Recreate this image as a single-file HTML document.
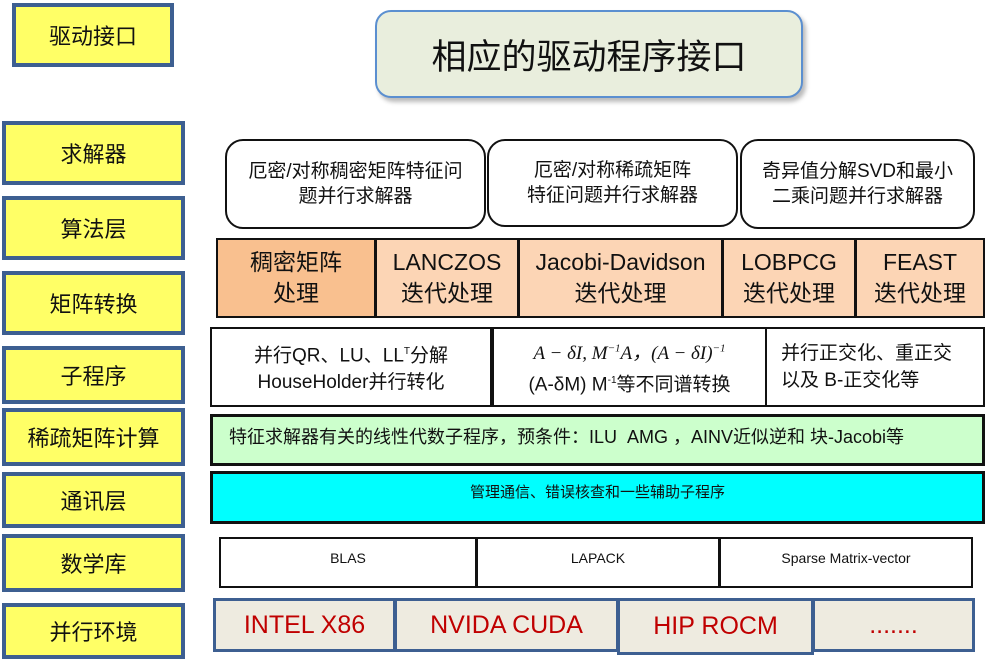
<!DOCTYPE html>
<html><head><meta charset="utf-8"><style>
body{margin:0;width:988px;height:663px;background:#fff;position:relative;overflow:hidden;font-family:"Liberation Sans","Noto Sans CJK SC",sans-serif}
.a{position:absolute;box-sizing:border-box;display:flex;align-items:center;justify-content:center;text-align:center;color:#111}
.y{background:#ffff66;border:4px solid #3d5f91;font-size:22px}
.s{background:#fff;border:2px solid #111;border-radius:18px;font-size:19px;line-height:25px}
.g{border:2px solid #111;font-size:23px;line-height:31px}
.w{background:#fff;border:2px solid #111;font-size:19px;line-height:27px}
.m{background:#fff;border:2px solid #111;font-size:14px;padding-bottom:10px}
.p{background:#eeebe0;border:3px solid #3d5f91;color:#c00000;font-size:25px}
</style></head><body>
<div class="a y" style="left:12px;top:3px;width:162px;height:64px">驱动接口</div>
<div class="a y" style="left:2px;top:121px;width:183px;height:64px">求解器</div>
<div class="a y" style="left:2px;top:196px;width:183px;height:64px">算法层</div>
<div class="a y" style="left:2px;top:271px;width:183px;height:64px">矩阵转换</div>
<div class="a y" style="left:2px;top:346px;width:183px;height:58px">子程序</div>
<div class="a y" style="left:2px;top:408px;width:183px;height:58px">稀疏矩阵计算</div>
<div class="a y" style="left:2px;top:472px;width:183px;height:56px">通讯层</div>
<div class="a y" style="left:2px;top:534px;width:183px;height:58px">数学库</div>
<div class="a y" style="left:2px;top:603px;width:183px;height:56px">并行环境</div>

<div class="a" style="left:375px;top:10px;width:428px;height:88px;background:#e9eedd;border:2px solid #5b8fd0;border-radius:16px;font-size:35px;box-shadow:3px 4px 4px #bbb">相应的驱动程序接口</div>

<div class="a s" style="left:225px;top:139px;width:261px;height:90px">厄密/对称稠密矩阵特征问<br>题并行求解器</div>
<div class="a s" style="left:487px;top:139px;width:251px;height:88px">厄密/对称稀疏矩阵<br>特征问题并行求解器</div>
<div class="a s" style="left:740px;top:139px;width:235px;height:90px">奇异值分解SVD和最小<br>二乘问题并行求解器</div>

<div class="a g" style="left:216px;top:238px;width:160px;height:80px;background:#f9c08f">稠密矩阵<br>处理</div>
<div class="a g" style="left:375px;top:238px;width:144px;height:80px;background:#fcd5b5">LANCZOS<br>迭代处理</div>
<div class="a g" style="left:518px;top:238px;width:205px;height:80px;background:#fcd5b5">Jacobi-Davidson<br>迭代处理</div>
<div class="a g" style="left:722px;top:238px;width:134px;height:80px;background:#fcd5b5">LOBPCG<br>迭代处理</div>
<div class="a g" style="left:855px;top:238px;width:130px;height:80px;background:#fcd5b5">FEAST<br>迭代处理</div>

<div class="a w" style="left:210px;top:327px;width:282px;height:80px"><span>并行QR、LU、LL<sup style="font-size:10px">T</sup>分解<br>HouseHolder并行转化</span></div>
<div class="a w" style="left:492px;top:327px;width:275px;height:80px"><span><i style="font-family:'Liberation Serif',serif">A − δI, M<sup style="font-size:11px">−1</sup>A，(A − δI)<sup style="font-size:11px">−1</sup></i><br>(A-δM) M<sup style="font-size:10px">-1</sup>等不同谱转换</span></div>
<div class="a w" style="left:765px;top:327px;width:220px;height:80px;justify-content:flex-start;text-align:left;padding-left:14px"><span>并行正交化、重正交<br>以及 B-正交化等</span></div>

<div class="a" style="left:210px;top:414px;width:775px;height:52px;background:#ccffcc;border:3px solid #111;font-size:18px;justify-content:flex-start;padding-left:16px;padding-bottom:8px">特征求解器有关的线性代数子程序，预条件：ILU &nbsp;AMG ，AINV近似逆和 块-Jacobi等</div>
<div class="a" style="left:210px;top:471px;width:775px;height:53px;background:#00ffff;border:3px solid #111;font-size:15px;padding-bottom:12px">管理通信、错误核查和一些辅助子程序</div>

<div class="a m" style="left:219px;top:537px;width:258px;height:51px">BLAS</div>
<div class="a m" style="left:476px;top:537px;width:244px;height:51px">LAPACK</div>
<div class="a m" style="left:719px;top:537px;width:254px;height:51px">Sparse Matrix-vector</div>

<div class="a p" style="left:213px;top:598px;width:183px;height:54px">INTEL X86</div>
<div class="a p" style="left:394px;top:598px;width:225px;height:54px">NVIDA CUDA</div>
<div class="a p" style="left:617px;top:598px;width:197px;height:57px">HIP ROCM</div>
<div class="a p" style="left:812px;top:598px;width:163px;height:54px">.......</div>
</body></html>
